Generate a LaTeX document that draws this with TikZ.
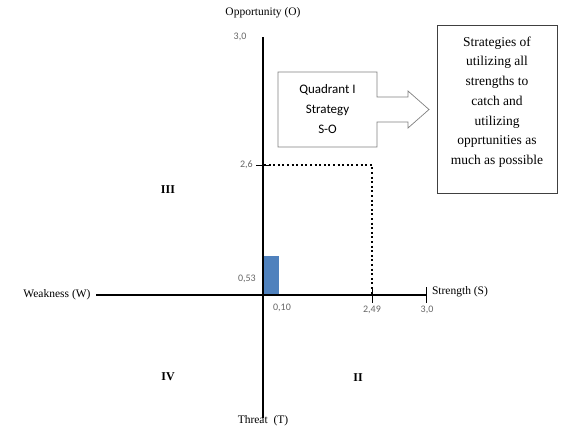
\documentclass[tikz,border=0pt]{standalone}
\usepackage{xcolor}
\usepackage{fontspec}
\setmainfont{Liberation Serif}
\newfontfamily\calfont{Carlito}
\newfontfamily\notefont{Liberation Serif}
\usepackage{tikz}
\usetikzlibrary{shapes}
\usetikzlibrary{arrows}
\usetikzlibrary{positioning}
\usetikzlibrary{calc}
\definecolor{barfill}{HTML}{4F81BD}
\definecolor{ticktxt}{HTML}{666666}
\definecolor{boxline}{HTML}{808080}

\begin{document}
\begin{tikzpicture}[x=1pt,y=-1pt,
  axis/.style ={
    line width=1.1pt
  },
  tickmark/.style={
    line width=0.9pt
  },
  ticklab/.style={
    font=\calfont\fontsize{10}{12}\selectfont,
    text=ticktxt,
    inner sep=1pt},
  axlab/.style={
    font=\rmfamily\fontsize{11.5}{13}\selectfont,
    inner sep=1pt},
  quad/.style={
    font=\rmfamily\bfseries\fontsize{12}{14}\selectfont},
  note/.style={
    rectangle,
    draw=black!75,
    line width=0.6pt,
    minimum width=120pt,
    minimum height=168pt},
  notetext/.style={
    align=center,
    font=\notefont\fontsize{13.5}{19.7}\selectfont},
]
  \useasboundingbox (0,0) rectangle (564,434);

  \def\ox{263}%
  \def\oy{295}%

    % Axes
  \coordinate (top) at (\ox, 37);
  \coordinate (bot) at (\ox, 418);
  \coordinate (left) at (96, \oy);
  \coordinate (right) at (426, \oy);
  \coordinate (o) at (\ox, \oy);
  \draw[axis] (top) -- (bot);
  \draw[axis] (left) -- (right);

    % Ticks
  \draw[tickmark] (\ox-7, 165) -- (\ox+8, 165);
  \foreach \tx in {372, 426} {
    \draw[tickmark] (\tx, \oy-8) -- (\tx, \oy+8);
  }

    % Blue bar and dotted lines
  \fill[barfill] (\ox+1, 256) rectangle (279, \oy-0.6);
  \coordinate (so) at (372, 165);
  \draw[line width=2pt, dash pattern=on 2pt off 2.6pt]
    (\ox+1, 165) -- (so) -- (372, \oy-1);

    % Tick labels
  \node[ticklab] (o30) at (240, 37) {3,0};
  \node[ticklab, anchor=east] (o26) at (254, 165) {2,6};
  \node[ticklab, anchor=east] (o053) at (257, 279) {0,53};
  \node[ticklab] (s010) at (282, 308) {0,10};
  \node[ticklab] (s249) at (372, 310) {2,49};
  \node[ticklab] (s30) at (427, 310) {3,0};

    % Axis labels
  \node[axlab] (opp) at (263, 13) {Opportunity (O)};
  \node[axlab] (thr) at (263, 421) {Threat \ (T)};
  \node[axlab] (weak) at (57, 295) {Weakness (W)};
  \node[axlab] (str) at (460, 292) {Strength (S)};

    % Quadrants
  \node[quad] (q3) at (168, 190) {III};
  \node[quad] (q4) at (168, 377) {IV};
  \node[quad] (q2) at (358, 378) {II};

    % Arrow callout
  \draw[boxline, line width=0.7pt, fill=white]
    (278, 72) -- (377, 72) -- (377, 97) -- (408, 97) -- (408, 91)
    -- (429, 109.5) -- (408, 128) -- (408, 122) -- (377, 122)
    -- (377, 147) -- (278, 147) -- cycle;
  \node[align=center, font=\calfont\fontsize{13}{20}\selectfont]
    (q1) at (327.5, 109) {Quadrant I\\Strategy\\S-O};

  \node[note] (strat) at (497, 109) {};
  \node[notetext] (strattxt) at ([yshift=7pt]strat.center)
    {Strategies of\\utilizing all\\strengths to\\catch and\\utilizing\\opprtunities as\\much as possible};

\end{tikzpicture}
\end{document}
